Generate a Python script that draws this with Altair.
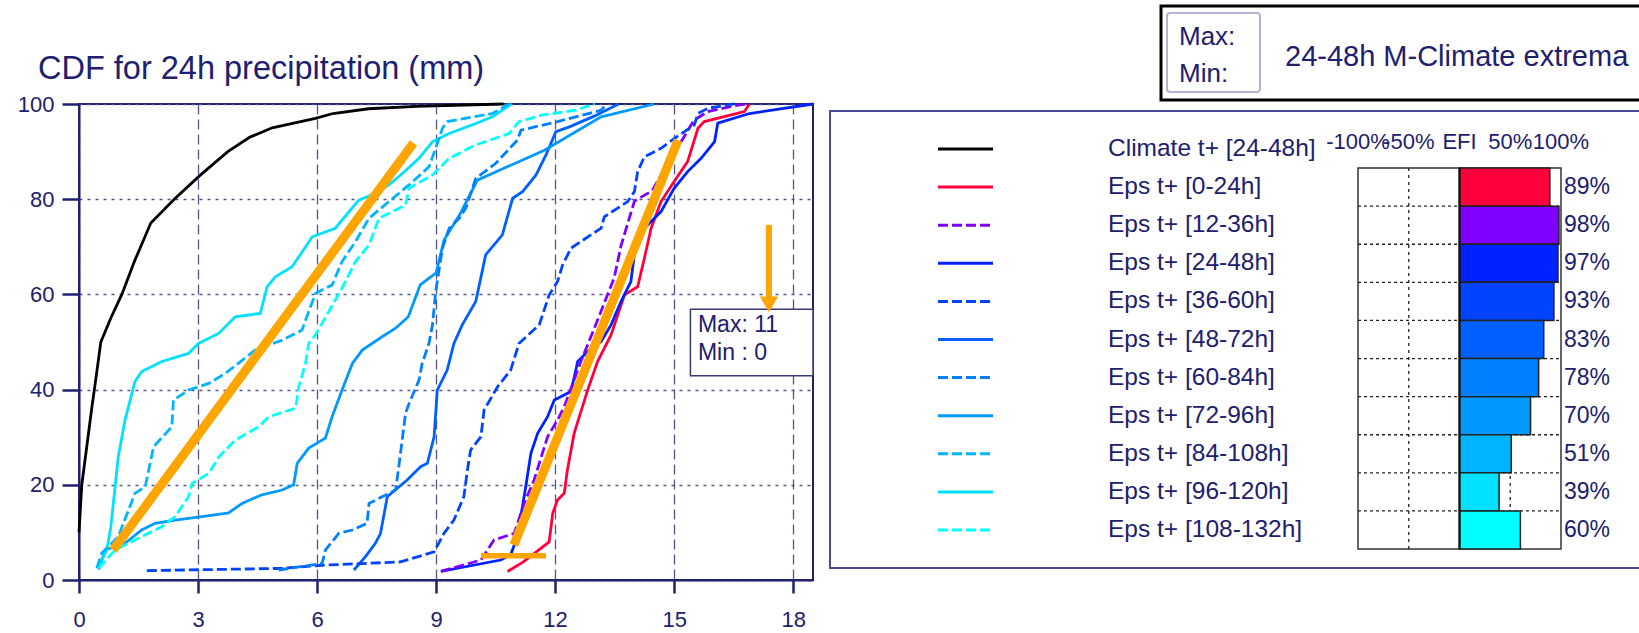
import altair as alt
import pandas as pd

NAVY = "#20206e"
FONT = "Liberation Sans"
ORANGE = "#FFA500"

# ---------------- data ----------------
series_names = [
    "Climate t+ [24-48h]", "Eps t+ [0-24h]", "Eps t+ [12-36h]", "Eps t+ [24-48h]",
    "Eps t+ [36-60h]", "Eps t+ [48-72h]", "Eps t+ [60-84h]", "Eps t+ [72-96h]",
    "Eps t+ [84-108h]", "Eps t+ [96-120h]", "Eps t+ [108-132h]",
]
series_colors = ["#000000", "#FF003C", "#8000FF", "#0022FF", "#0044FF", "#0060FF",
                 "#0080FF", "#0099FF", "#00B4FF", "#00E0FF", "#00FFFF"]
series_dashed = [False, False, True, False, True, False, True, False, True, False, True]

efi_values = [89, 98, 97, 93, 83, 78, 70, 51, 39, 60]
efi_header_pos = [-100, -50, 0, 50, 100]
efi_header_txt = ["-100%", "-50%", "EFI", "50%", "100%"]

x_ticks = [0, 3, 6, 9, 12, 15, 18]
y_ticks = [0, 20, 40, 60, 80, 100]

clim_x = [0, 0.07, 0.18, 0.32, 0.42, 0.55, 0.8, 1.08, 1.4, 1.81, 2.4, 3.05, 3.75, 4.3, 4.87, 5.96, 6.4, 7.3, 8.5, 10.7]
clim_y = [10, 20, 27, 36, 42, 50, 55, 60, 67, 75, 80, 85, 90, 93, 95, 97, 98, 99, 99.5, 100]

e00_x = [10.8, 11.2, 11.85, 11.94, 12.06, 12.23, 12.31, 12.48, 12.82, 13.07, 13.41, 13.75, 14.08, 14.25, 14.42, 14.67, 15.0, 15.34, 15.6, 15.76, 16.77, 16.9]
e00_y = [1.8, 3.8, 8.0, 14, 16.8, 18.2, 23.1, 30.8, 39.9, 45.9, 51.5, 59.9, 61.6, 67.6, 73.9, 79.5, 83.7, 87.9, 94.9, 96.3, 98.4, 100]

e12_x = [9.12, 10.13, 10.46, 10.97, 11.22, 11.47, 11.81, 12.06, 12.23, 12.65, 12.99, 13.49, 13.66, 14.0, 14.45, 14.8, 15.1, 15.5, 15.85, 16.5, 16.8]
e12_y = [1.8, 4.2, 8.4, 9.8, 16.1, 21.0, 30.1, 33.6, 36.4, 45.9, 52.9, 63.5, 70.2, 79.6, 81.8, 87.0, 91.0, 96.6, 98.4, 99.6, 100]

e24_x = [9.12, 10.63, 10.88, 11.05, 11.26, 11.39, 11.56, 11.81, 11.98, 12.4, 12.57, 12.82, 13.16, 13.41, 13.66, 13.91, 14.0, 14.25, 14.67, 15.0, 15.34, 15.68, 16.02, 16.1, 16.9, 18.5]
e24_y = [1.8, 4.2, 5.3, 9.1, 19.6, 26.6, 30.8, 34.3, 37.8, 39.6, 45.9, 48.0, 50.1, 53.6, 58.5, 62.7, 68.5, 73.9, 77.4, 82.3, 85.8, 88.6, 92.1, 96.0, 98.0, 100]

e36_x = [1.71, 5.12, 6.13, 8.1, 8.95, 9.2, 9.45, 9.7, 9.79, 9.87, 10.13, 10.21, 10.55, 10.88, 11.09, 11.6, 11.85, 12.06, 12.19, 12.4, 12.9, 13.16, 13.24, 13.83, 14.0, 14.08, 14.25, 14.67, 15.01, 15.51, 15.6, 15.85, 16.5]
e36_y = [1.96, 2.45, 3.1, 3.8, 5.9, 9.8, 12.6, 17.5, 23.1, 27.3, 30.1, 35.7, 40.6, 44.1, 49.7, 53.6, 59.9, 62.7, 66.2, 69.7, 72.5, 73.9, 76.3, 79.5, 81.6, 85.8, 88.9, 90.7, 92.8, 95.6, 98.0, 99.1, 100]

e48_x = [6.93, 7.22, 7.47, 7.6, 7.77, 8.27, 8.61, 8.78, 8.95, 9.03, 9.28, 9.45, 9.66, 10.0, 10.25, 10.67, 10.93, 11.18, 11.52, 11.77, 12.02, 12.36, 13.0, 13.6]
e48_y = [2.1, 4.9, 7.7, 9.8, 17.5, 21.0, 23.8, 24.5, 30.1, 39.9, 44.1, 49.7, 53.6, 58.5, 68.3, 72.5, 80.2, 81.6, 85.1, 89.3, 94.2, 95.2, 97.5, 100]

e60_x = [5.03, 6.13, 6.21, 6.55, 6.89, 7.26, 7.31, 7.98, 8.06, 8.23, 8.32, 8.57, 8.65, 8.82, 8.91, 8.99, 9.16, 9.33, 9.58, 9.75, 10.0, 10.5, 11.05, 11.14, 12.06, 13.16, 13.3]
e60_y = [2.1, 3.5, 6.3, 9.8, 10.5, 11.9, 16.1, 18.9, 23.8, 35.0, 37.1, 42.0, 45.5, 49.7, 53.6, 60.6, 69.7, 73.9, 76.0, 78.1, 84.4, 87.5, 92.4, 94.5, 96.3, 98.7, 100]

e72_x = [0.5, 0.66, 1.16, 1.58, 1.92, 2.42, 3.1, 3.77, 4.11, 4.61, 5.12, 5.41, 5.5, 5.79, 6.21, 6.38, 6.63, 6.89, 7.14, 7.64, 7.98, 8.3, 8.6, 9.0, 9.2, 9.62, 10.04, 11.73, 13.16, 14.5]
e72_y = [2.2, 6.3, 7.7, 10.5, 11.9, 12.6, 13.3, 14.1, 16.1, 17.9, 18.9, 20.0, 24.5, 27.7, 29.8, 34.3, 39.9, 45.5, 48.3, 51.1, 52.9, 55.3, 62.0, 64.5, 71.4, 77.1, 84.0, 90.3, 97.3, 100]

e84_x = [0.45, 0.57, 0.99, 1.41, 1.67, 1.88, 2.34, 2.38, 2.76, 3.27, 3.69, 4.44, 5.12, 5.62, 5.79, 5.96, 6.38, 6.63, 6.97, 7.31, 7.81, 8.32, 8.82, 8.99, 9.16, 9.28, 10.42, 10.84]
e84_y = [2.5, 5.6, 9.1, 18.2, 19.6, 28.0, 32.2, 37.8, 39.9, 41.3, 43.4, 48.3, 50.4, 52.5, 56.4, 60.2, 62.0, 66.9, 71.1, 76.0, 79.5, 83.0, 86.8, 90.7, 94.9, 96.3, 98.0, 100]

e96_x = [0.45, 0.57, 0.7, 0.8, 0.91, 0.99, 1.16, 1.41, 1.58, 2.09, 2.76, 3.01, 3.52, 3.94, 4.57, 4.74, 4.95, 5.37, 5.88, 6.46, 7.05, 7.47, 7.81, 8.15, 8.57, 8.91, 9.33, 10.0, 10.42, 10.9]
e96_y = [2.45, 4.2, 6.3, 11, 19.6, 25.9, 33.6, 41.7, 43.8, 45.9, 47.6, 49.7, 51.8, 55.3, 56.0, 61.6, 63.7, 65.8, 72.1, 73.9, 79.8, 81.2, 83.0, 85.4, 88.6, 92.1, 93.8, 95.9, 97.3, 100]

e108_x = [0.49, 0.91, 1.58, 2.09, 2.42, 2.76, 2.85, 3.27, 3.53, 3.94, 4.53, 4.78, 5.46, 5.54, 5.71, 5.79, 5.96, 6.63, 6.97, 7.31, 7.56, 8.23, 8.32, 8.91, 9.33, 10.0, 10.84, 11.09, 11.68, 12.52, 13.0]
e108_y = [2.45, 6.3, 9.1, 11.2, 13.3, 17.5, 20.3, 22.4, 25.9, 29.4, 32.2, 34.3, 36.1, 40.6, 45.5, 49.7, 51.5, 61.3, 66.9, 70.4, 76.0, 78.8, 82.3, 85.1, 88.6, 91.4, 93.8, 96.3, 97.7, 98.7, 100]

curves = [(clim_x, clim_y), (e00_x, e00_y), (e12_x, e12_y), (e24_x, e24_y),
          (e36_x, e36_y), (e48_x, e48_y), (e60_x, e60_y), (e72_x, e72_y),
          (e84_x, e84_y), (e96_x, e96_y), (e108_x, e108_y)]

# annotation geometry (data coordinates of the CDF panel)
orange_diag = {"x": [0.86, 10.96], "y": [6.3, 7.35], "x2": [8.43, 15.1], "y2": [91.8, 92.4]}
orange_flat = {"x": [10.13], "y": [5.1], "x2": [11.77], "y2": [5.1]}
orange_shaft = {"x": [17.39], "y": [74.6], "x2": [17.39], "y2": [58.5]}
orange_head = {"x": [17.39], "y": [57.9]}
maxmin_box = {"x": [15.41], "x2": [18.5], "y": [56.9], "y2": [42.9]}
maxmin_txt = {"x": [15.6, 15.6], "y": [53.6, 47.7], "t": ["Max: 11", "Min : 0"]}

rows = []
for si, (name, (xs, ys)) in enumerate(zip(series_names, curves)):
    for i, (xv, yv) in enumerate(zip(xs, ys)):
        rows.append({"series": name, "x": xv, "y": yv, "pt": i, "dashed": series_dashed[si]})
cdf_df = pd.DataFrame(rows)
solid_df = cdf_df[~cdf_df["dashed"]].drop(columns="dashed")
dash_df = cdf_df[cdf_df["dashed"]].drop(columns="dashed")

legend_df = pd.DataFrame({"series": series_names, "row": list(range(len(series_names))),
                          "dashed": series_dashed})
efi_df = pd.DataFrame({
    "series": series_names[1:],
    "row": list(range(1, len(series_names))),
    "efi": efi_values,
    "pct": [f"{v}%" for v in efi_values],
})
header_df = pd.DataFrame({"pos": efi_header_pos, "txt": efi_header_txt})
sep_df = pd.DataFrame({"sep": [r + 0.5 for r in range(1, 10)], "a": -100, "b": 100})
vdot_df = pd.DataFrame({"v": [-50, 50], "a": 0.5, "b": 10.5})
frame_df = pd.DataFrame({"a": [-100], "b": [100], "c": [0.5], "d": [10.5], "z": [0]})
one = pd.DataFrame({"k": [0]})

# ---------------- CDF panel ----------------
xsc = alt.Scale(domain=[0, 18.5], nice=False, zero=False)
ysc = alt.Scale(domain=[0, 100], nice=False, zero=False)
x_axis = alt.Axis(values=x_ticks, title=None, grid=True, gridDash=[10, 5], gridColor="#55558a",
                  gridWidth=1.3, tickSize=13, tickWidth=2.5, tickColor=NAVY, domainColor=NAVY,
                  domainWidth=2, labelFontSize=22, labelColor=NAVY, labelPadding=16,
                  labelFont=FONT, labelFlush=False)
y_axis = alt.Axis(values=y_ticks, title=None, grid=True, gridDash=[3, 5], gridColor="#55558a",
                  gridWidth=1.3, tickSize=17, tickWidth=2.5, tickColor=NAVY, domainColor=NAVY,
                  domainWidth=2, labelFontSize=22, labelColor=NAVY, labelPadding=8,
                  labelFont=FONT, labelFlush=False)
col_sc = alt.Scale(domain=series_names, range=series_colors)

X = alt.X("x:Q", scale=xsc, axis=x_axis)
Y = alt.Y("y:Q", scale=ysc, axis=y_axis)

lines_solid = alt.Chart(solid_df).mark_line(strokeWidth=2.8).encode(
    x=X, y=Y, color=alt.Color("series:N", scale=col_sc, legend=None),
    order=alt.Order("pt:Q"), detail="series:N")
lines_dash = alt.Chart(dash_df).mark_line(strokeWidth=2.8, strokeDash=[10, 4]).encode(
    x=X, y=Y, color=alt.Color("series:N", scale=col_sc, legend=None),
    order=alt.Order("pt:Q"), detail="series:N")

mm_box = alt.Chart(pd.DataFrame(maxmin_box)).mark_rect(fill="white", stroke="#3a3a7a", strokeWidth=1.5).encode(
    x=X, x2="x2:Q", y=Y, y2="y2:Q")
mm_txt = alt.Chart(pd.DataFrame(maxmin_txt)).mark_text(align="left", baseline="middle", fontSize=23,
                                                       font=FONT, color=NAVY).encode(x=X, y=Y, text="t:N")
or_diag = alt.Chart(pd.DataFrame(orange_diag)).mark_rule(color=ORANGE, strokeWidth=9, strokeCap="butt").encode(
    x=X, y=Y, x2="x2:Q", y2="y2:Q")
or_flat = alt.Chart(pd.DataFrame(orange_flat)).mark_rule(color=ORANGE, strokeWidth=5.5, strokeCap="butt").encode(
    x=X, y=Y, x2="x2:Q", y2="y2:Q")
or_shaft = alt.Chart(pd.DataFrame(orange_shaft)).mark_rule(color=ORANGE, strokeWidth=6, strokeCap="butt").encode(
    x=X, y=Y, x2="x2:Q", y2="y2:Q")
or_head = alt.Chart(pd.DataFrame(orange_head)).mark_point(shape="triangle-down", filled=True, color=ORANGE,
                                                          size=330, opacity=1).encode(x=X, y=Y)

cdf_title = alt.Chart(one).mark_text(text="CDF for 24h precipitation (mm)", align="left",
                                     baseline="middle", fontSize=32.5, font=FONT, color=NAVY).encode(
    x=alt.value(-41), y=alt.value(-35))

cdf_layer = alt.layer(lines_solid, lines_dash, mm_box, mm_txt, or_diag, or_flat, or_shaft, or_head,
                      cdf_title)

# ---------------- legend / EFI panel (pixel ranges relative to the plot origin) ----------------
efi_x = alt.Scale(domain=[-100, 100], range=[1279, 1482], nice=False, zero=False)
row_y = alt.Scale(domain=[0, 10], range=[45, 426], nice=False, zero=False)

leg_box = alt.Chart(one).mark_rect(fill="white", stroke="#4a4a9a", strokeWidth=2).encode(
    x=alt.value(751), x2=alt.value(1620), y=alt.value(7), y2=alt.value(464))
tr_box = alt.Chart(one).mark_rect(fill="white", stroke="#000000", strokeWidth=3).encode(
    x=alt.value(1082), x2=alt.value(1620), y=alt.value(-98), y2=alt.value(-4))
tr_inner = alt.Chart(one).mark_rect(fill="white", stroke="#b4b4d6", strokeWidth=2, cornerRadius=3).encode(
    x=alt.value(1088), x2=alt.value(1181), y=alt.value(-91), y2=alt.value(-12))
tr_max = alt.Chart(one).mark_text(text="Max:", align="left", baseline="middle", fontSize=26,
                                  font=FONT, color=NAVY).encode(x=alt.value(1100), y=alt.value(-67))
tr_min = alt.Chart(one).mark_text(text="Min:", align="left", baseline="middle", fontSize=26,
                                  font=FONT, color=NAVY).encode(x=alt.value(1100), y=alt.value(-30))
tr_txt = alt.Chart(one).mark_text(text="24-48h M-Climate extrema", align="left", baseline="middle",
                                  fontSize=29, font=FONT, color=NAVY).encode(x=alt.value(1206), y=alt.value(-47))

ROW = alt.Y("row:Q", scale=row_y, axis=None)
leg_solid = alt.Chart(legend_df[~legend_df["dashed"]]).mark_rule(strokeWidth=3).encode(
    x=alt.value(859), x2=alt.value(914), y=ROW,
    color=alt.Color("series:N", scale=col_sc, legend=None))
leg_dash = alt.Chart(legend_df[legend_df["dashed"]]).mark_rule(strokeWidth=3, strokeDash=[10, 4]).encode(
    x=alt.value(859), x2=alt.value(914), y=ROW,
    color=alt.Color("series:N", scale=col_sc, legend=None))
leg_text = alt.Chart(legend_df).mark_text(align="left", baseline="middle", fontSize=24.5,
                                          font=FONT, color=NAVY).encode(
    x=alt.value(1029), y=ROW, text="series:N")

EX = alt.X("a:Q", scale=efi_x, axis=None)
efi_frame = alt.Chart(frame_df).mark_rect(fill="white", stroke="#333333", strokeWidth=1.5).encode(
    x=EX, x2="b:Q", y=alt.Y("c:Q", scale=row_y, axis=None), y2="d:Q")
efi_seps = alt.Chart(sep_df).mark_rule(color="#222222", strokeWidth=1.3, strokeDash=[3, 3]).encode(
    x=EX, x2="b:Q", y=alt.Y("sep:Q", scale=row_y, axis=None))
efi_vdots = alt.Chart(vdot_df).mark_rule(color="#222222", strokeWidth=1.3, strokeDash=[3, 4]).encode(
    x=alt.X("v:Q", scale=efi_x, axis=None), y=alt.Y("a:Q", scale=row_y, axis=None), y2="b:Q")
efi_bars = alt.Chart(efi_df).transform_calculate(
    lo="datum.row - 0.5", hi="datum.row + 0.5", zero="0"
).mark_rect(stroke="#222222", strokeWidth=1.5).encode(
    x=alt.X("zero:Q", scale=efi_x, axis=None), x2="efi:Q",
    y=alt.Y("lo:Q", scale=row_y, axis=None), y2="hi:Q",
    color=alt.Color("series:N", scale=col_sc, legend=None),
)
efi_zero = alt.Chart(frame_df).mark_rule(color="#111111", strokeWidth=2.2).encode(
    x=alt.X("z:Q", scale=efi_x, axis=None), y=alt.Y("c:Q", scale=row_y, axis=None), y2="d:Q")
efi_pct = alt.Chart(efi_df).mark_text(align="left", baseline="middle", fontSize=23,
                                      font=FONT, color=NAVY).encode(
    x=alt.value(1485), y=ROW, text="pct:N")
efi_head = alt.Chart(header_df).mark_text(align="center", baseline="middle", fontSize=22,
                                          font=FONT, color=NAVY).encode(
    x=alt.X("pos:Q", scale=efi_x, axis=None), y=alt.value(38), text="txt:N")

panel_layer = alt.layer(leg_box, tr_box, tr_inner, tr_max, tr_min, tr_txt, leg_solid, leg_dash, leg_text,
                        efi_frame, efi_seps, efi_vdots, efi_bars, efi_zero, efi_pct, efi_head)

chart = alt.layer(cdf_layer, panel_layer).resolve_scale(
    x="independent", y="independent"
).properties(
    width=734, height=476,
    padding={"left": 79, "top": 104, "right": 826, "bottom": 53},
    autosize=alt.AutoSizeParams(type="none"),
).configure_view(stroke=NAVY, strokeWidth=2)

chart.save("out.html", embed_options={"renderer": "svg", "actions": False})
